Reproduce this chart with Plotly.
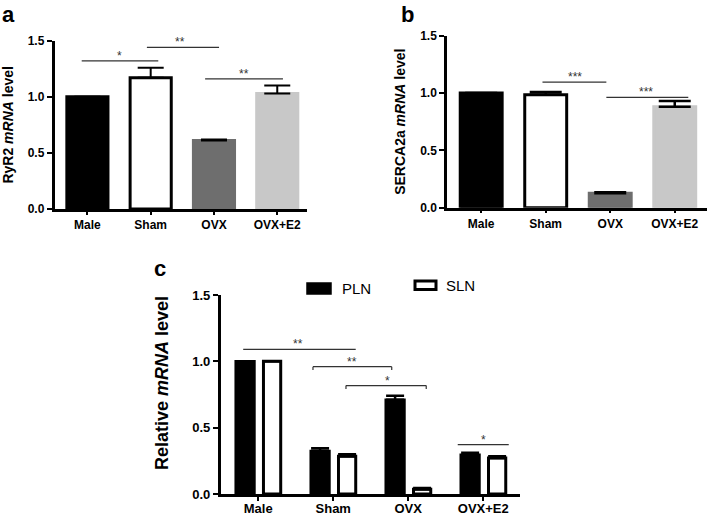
import plotly.graph_objects as go

# ---------------- data ----------------
groups = ["Male", "Sham", "OVX", "OVX+E2"]
ryr2_mean = [1.00, 1.17, 0.61, 1.03]
ryr2_err = [0.0, 0.09, 0.01, 0.07]
serca_mean = [1.00, 0.985, 0.125, 0.88]
serca_err = [0.0, 0.025, 0.01, 0.05]
pln_mean = [1.00, 0.325, 0.71, 0.295]
pln_err = [0.0, 0.02, 0.03, 0.015]
sln_mean = [1.00, 0.285, 0.035, 0.272]
sln_err = [0.0, 0.015, 0.01, 0.013]
yticks = [0.0, 0.5, 1.0, 1.5]

W, H = 709, 517
F = "Liberation Sans, Arial, sans-serif"

def px_x(p):
    return p / W

def px_y(p):
    return 1 - p / H

fill_ab = ["#000000", "#ffffff", "#6e6e6e", "#c8c8c8"]
edge_ab = ["#000000", "#000000", "#6e6e6e", "#c8c8c8"]

fig = go.Figure()

# panel a
fig.add_trace(go.Bar(
    x=groups, y=ryr2_mean, width=0.65,
    marker=dict(color=fill_ab, line=dict(color=edge_ab, width=3)),
    error_y=dict(type="data", array=ryr2_err, arrayminus=[0] * 4, symmetric=False,
                 color="black", thickness=2, width=13),
    xaxis="x", yaxis="y", showlegend=False))

# panel b
fig.add_trace(go.Bar(
    x=groups, y=serca_mean, width=0.65,
    marker=dict(color=fill_ab, line=dict(color=edge_ab, width=3)),
    error_y=dict(type="data", array=serca_err, arrayminus=[0] * 4, symmetric=False,
                 color="black", thickness=2.5, width=16),
    xaxis="x2", yaxis="y2", showlegend=False))

# panel c
fig.add_trace(go.Bar(
    name="PLN", x=groups, y=pln_mean, offset=-0.30, width=0.25,
    marker=dict(color="black", line=dict(color="black", width=2.5)),
    error_y=dict(type="data", array=pln_err, arrayminus=[0] * 4, symmetric=False,
                 color="black", thickness=2.5, width=9),
    xaxis="x3", yaxis="y3", showlegend=False))
fig.add_trace(go.Bar(
    name="SLN", x=groups, y=sln_mean, offset=0.07, width=0.23,
    marker=dict(color="white", line=dict(color="black", width=3)),
    error_y=dict(type="data", array=sln_err, arrayminus=[0] * 4, symmetric=False,
                 color="black", thickness=2.5, width=9),
    xaxis="x3", yaxis="y3", showlegend=False))


def xax(domain, anchor, rng, size, ticklen, standoff):
    return dict(domain=domain, anchor=anchor, range=rng, showline=True,
                linecolor="black", linewidth=2.5, ticks="outside", ticklen=ticklen,
                tickwidth=2, tickcolor="black", showgrid=False, zeroline=False,
                automargin=False, ticklabelstandoff=standoff,
                tickfont=dict(family=F, size=size, color="black", weight="bold"))


def yax(domain, anchor, title, tsize, size, standoff):
    return dict(domain=domain, anchor=anchor, range=[0, 1.5], tickvals=yticks,
                ticktext=[f"{v:.1f}" for v in yticks], showline=True,
                linecolor="black", linewidth=2.5, ticks="outside", ticklen=5,
                tickwidth=2, tickcolor="black", showgrid=False, zeroline=False,
                automargin=False,
                tickfont=dict(family=F, size=size, color="black", weight="bold"),
                title=dict(text=title, standoff=standoff,
                           font=dict(family=F, size=tsize, color="black", weight="bold")))


fig.update_layout(
    width=W, height=H, margin=dict(l=0, r=0, t=0, b=0),
    paper_bgcolor="white", plot_bgcolor="white", barmode="overlay",
    xaxis=xax([px_x(54.5), px_x(307)], "y", [-0.52, 3.47], 12, 3, 0),
    yaxis=yax([px_y(209), px_y(40.7)], "x", "RyR2 <i>mRNA</i> level", 14, 12, 12),
    xaxis2=xax([px_x(447), px_x(707)], "y2", [-0.53, 3.5], 12, 3, 0),
    yaxis2=yax([px_y(207.7), px_y(35.7)], "x2", "SERCA2a <i>mRNA</i> level", 14, 12, 12),
    xaxis3=xax([px_x(220.7), px_x(520)], "y3", [-0.5, 3.49], 13, 4, -3),
    yaxis3=yax([px_y(494), px_y(295)], "x3", "", 17, 13, 16),
)

shapes = []
annots = []
LC = "#333333"


def hline(x0, x1, y, xr, yr):
    shapes.append(dict(type="line", x0=x0, x1=x1, y0=y, y1=y, xref=xr, yref=yr,
                       line=dict(color=LC, width=1.2)))


def leg(x, y0, y1, xr, yr):
    shapes.append(dict(type="line", x0=x, x1=x, y0=y0, y1=y1, xref=xr, yref=yr,
                       line=dict(color=LC, width=1.2)))


def star(text, x, y, xr, yr, size=12):
    annots.append(dict(text=text, x=x, y=y, xref=xr, yref=yr, showarrow=False,
                       yanchor="bottom", yshift=-4,
                       font=dict(family=F, size=size, color=LC)))


# panel a brackets
hline(-0.09, 1.12, 1.32, "x", "y"); star("*", 0.51, 1.32, "x", "y")
hline(0.94, 2.08, 1.44, "x", "y"); star("**", 1.47, 1.44, "x", "y")
hline(1.86, 3.09, 1.16, "x", "y"); star("**", 2.48, 1.16, "x", "y")

# panel b brackets
hline(0.95, 1.94, 1.096, "x2", "y2"); star("***", 1.45, 1.096, "x2", "y2")
hline(1.94, 3.21, 0.962, "x2", "y2"); star("***", 2.55, 0.962, "x2", "y2")

# panel c brackets
hline(-0.2, 1.3, 1.09, "x3", "y3"); star("**", 0.53, 1.09, "x3", "y3")
hline(0.73, 1.78, 0.96, "x3", "y3"); star("**", 1.25, 0.96, "x3", "y3")
leg(0.73, 0.935, 0.96, "x3", "y3"); leg(1.78, 0.935, 0.96, "x3", "y3")
hline(1.17, 2.24, 0.817, "x3", "y3"); star("*", 1.72, 0.817, "x3", "y3")
leg(1.17, 0.792, 0.817, "x3", "y3"); leg(2.24, 0.792, 0.817, "x3", "y3")
hline(2.66, 3.34, 0.372, "x3", "y3"); star("*", 3.0, 0.372, "x3", "y3")

# panel c y title
annots.append(dict(text="Relative <i>mRNA</i> level", x=px_x(162), y=px_y(383),
                   xref="paper", yref="paper", textangle=-90, showarrow=False,
                   xanchor="center", yanchor="middle",
                   font=dict(family=F, size=18, color="black", weight="bold")))

# legend for panel c
shapes.append(dict(type="rect", xref="paper", yref="paper",
                   x0=px_x(307.5), x1=px_x(330.5), y0=px_y(293.5), y1=px_y(283.5),
                   fillcolor="black", line=dict(color="black", width=2.5)))
shapes.append(dict(type="rect", xref="paper", yref="paper",
                   x0=px_x(415), x1=px_x(436), y0=px_y(289.5), y1=px_y(281),
                   fillcolor="white", line=dict(color="black", width=3)))
annots.append(dict(text="PLN", x=px_x(340), y=px_y(288.5), xref="paper", yref="paper",
                   xanchor="left", yanchor="middle", showarrow=False,
                   font=dict(family=F, size=15, color="black")))
annots.append(dict(text="SLN", x=px_x(443.5), y=px_y(285), xref="paper", yref="paper",
                   xanchor="left", yanchor="middle", showarrow=False,
                   font=dict(family=F, size=15, color="black")))

# panel letters
for letter, lx, ly in [("a", 0, 0), ("b", 399, 0), ("c", 152, 254)]:
    annots.append(dict(text=letter, x=px_x(lx), y=px_y(ly), xref="paper", yref="paper",
                       xanchor="left", yanchor="top", showarrow=False,
                       font=dict(family=F, size=22, color="black", weight="bold")))

fig.update_layout(shapes=shapes, annotations=annots)
fig.write_html("out.html", config={"displayModeBar": False},
               post_script="document.body.style.margin='0px';")
